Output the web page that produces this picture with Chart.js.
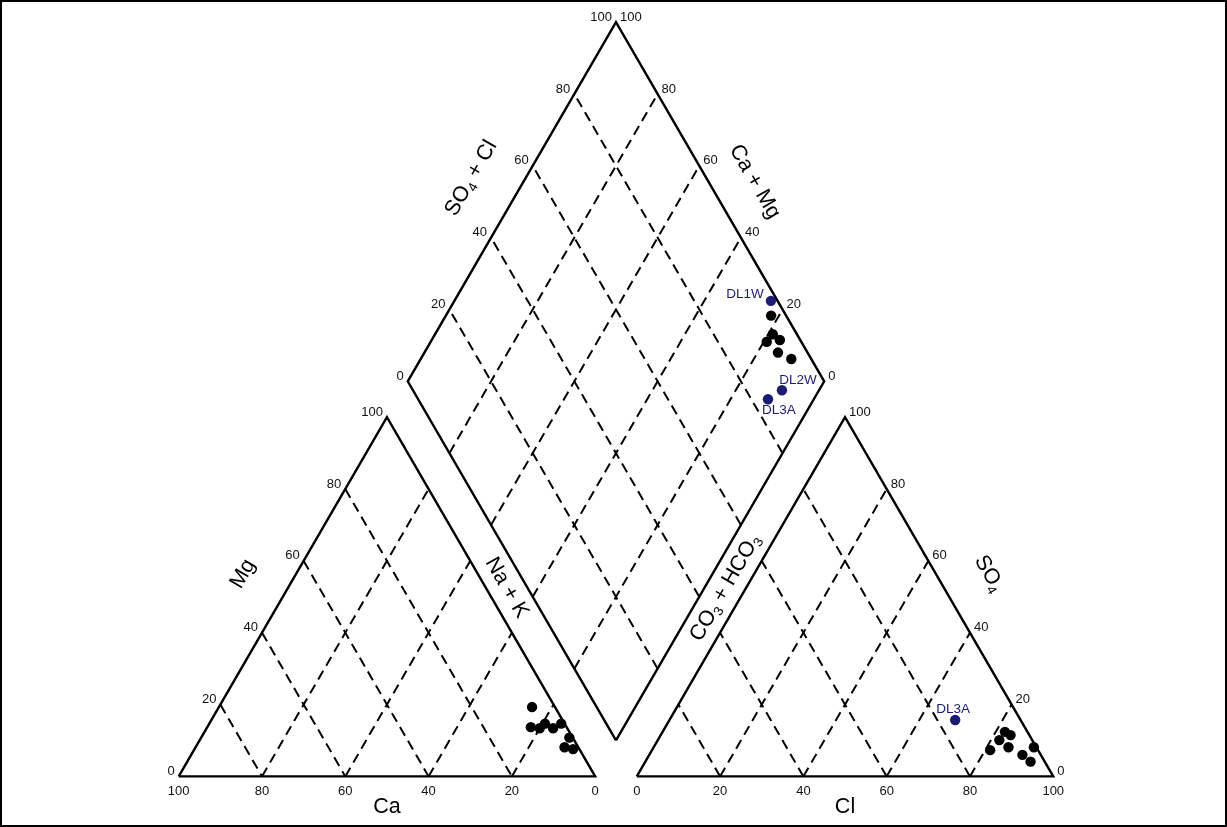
<!DOCTYPE html>
<html>
<head>
<meta charset="utf-8">
<title>Piper diagram</title>
<script src="https://cdn.jsdelivr.net/npm/chart.js@4.4.1/dist/chart.umd.min.js"></script>
<style>
  html, body { margin: 0; padding: 0; background: #fff; overflow: hidden; }
  #wrap { width: 1227px; height: 827px; }
</style>
</head>
<body>
<div id="wrap"><canvas id="piper" width="1227" height="827"></canvas></div>
<script>
/* DATA (percent) */
const tickValues = [0, 20, 40, 60, 80, 100];
const gridValues = [20, 40, 60, 80];

// cation triangle: Ca, Mg (Na + K is the rest)
const cationCa = [5.5, 8.6, 6.6, 4.7, 3.4, 0.8, 0.8, 3.3, 1.5];
const cationMg = [19.3, 13.7, 13.4, 14.7, 13.4, 14.7, 10.8, 8.1, 7.6];

// anion triangle: Cl, SO4 (CO3 + HCO3 is the rest)
const anionCl = [82.2, 84.0, 82.0, 81.2, 85.2, 91.3, 89.6, 92.5];
const anionSO4 = [12.4, 11.5, 10.1, 7.3, 8.1, 8.1, 6.0, 4.1];
const anionNames = ["DL3A"];
const anionNamedCl = [68.6];
const anionNamedSO4 = [15.7];

// diamond: Ca + Mg, SO4 + Cl
const diamondCaMg = [21.9, 18.9, 19.3, 16.4, 15.1, 11.0];
const diamondSO4Cl = [96.4, 94.2, 91.7, 95.1, 92.9, 95.2];
const diamondNames = ["DL1W", "DL2W", "DL3A"];
const diamondNamedCaMg = [24.0, 8.9, 11.0];
const diamondNamedSO4Cl = [98.4, 88.6, 84.0];

/* LAYOUT */
const W = 1227, H = 827;
const PX = 4.2;          // pixels per percent unit
const LEFT = 175;        // pixel x of cation 100% Ca corner
const BASE = 781;        // pixel y of both triangle bases
const S = Math.sqrt(3) / 2;
const GAP = 10;          // gap between triangles, in percent units
const FONT = '"Liberation Sans", Arial, sans-serif';
const NAVY = "#1b1b78";

// offsets of the sample names from their dots (pixels)
const nameOffsets = {
  "diamond-DL1W": [-26, -7], "diamond-DL2W": [16, -10], "diamond-DL3A": [11, 11],
  "anion-DL3A": [-2, -11]
};

/* TERNARY -> PLOT UNITS */
function cationXY(ca, mg){
  const na = 100 - ca - mg;
  return {x: na + mg / 2, y: mg * S};
}
function anionXY(cl, so4){
  return {x: 100 + GAP + cl + so4 / 2, y: so4 * S};
}
function diamondXY(camg, so4cl){
  return {x: 100 + GAP / 2 + (so4cl - camg) / 2, y: GAP * S + (camg + so4cl) * S};
}

/* DATASETS */
const datasets = [];

function addLine(points, dashed, width){
  datasets.push({
    data: points, showLine: true, fill: false, pointRadius: 0,
    borderColor: "#000", borderWidth: width,
    borderDash: dashed ? [10, 6] : [], order: dashed ? 2 : 1
  });
}

function addDots(points, color){
  datasets.push({
    data: points, showLine: false, pointRadius: 5.2, pointHoverRadius: 5.2,
    backgroundColor: color, borderWidth: 0, order: 0
  });
}

// outlines
addLine([cationXY(100, 0), cationXY(0, 0), cationXY(0, 100), cationXY(100, 0)], false, 2.4);
addLine([anionXY(0, 0), anionXY(100, 0), anionXY(0, 100), anionXY(0, 0)], false, 2.4);
addLine([diamondXY(0, 0), diamondXY(100, 0), diamondXY(100, 100), diamondXY(0, 100), diamondXY(0, 0)], false, 2.4);

// dashed grid
gridValues.forEach(g => {
  addLine([cationXY(g, 100 - g), cationXY(g, 0)], true, 2);
  addLine([cationXY(100 - g, 0), cationXY(0, 100 - g)], true, 2);
  addLine([anionXY(g, 0), anionXY(g, 100 - g)], true, 2);
  addLine([anionXY(100 - g, 0), anionXY(0, 100 - g)], true, 2);
  addLine([diamondXY(g, 0), diamondXY(g, 100)], true, 2);
  addLine([diamondXY(0, g), diamondXY(100, g)], true, 2);
});

// samples
addDots(cationCa.map((c, i) => cationXY(c, cationMg[i])), "#000");
addDots(anionCl.map((c, i) => anionXY(c, anionSO4[i])), "#000");
addDots(diamondCaMg.map((c, i) => diamondXY(c, diamondSO4Cl[i])), "#000");
addDots(anionNamedCl.map((c, i) => anionXY(c, anionNamedSO4[i])), NAVY);
addDots(diamondNamedCaMg.map((c, i) => diamondXY(c, diamondNamedSO4Cl[i])), NAVY);

/* TEXT PLUGIN */
function drawRich(ctx, parts, x, y, angle, size){
  ctx.save();
  ctx.translate(x, y);
  ctx.rotate(angle);
  ctx.textBaseline = "middle";
  ctx.textAlign = "left";
  let total = 0;
  parts.forEach(p => {
    ctx.font = (p.sub ? size * 0.62 : size) + "px " + FONT;
    p.w = ctx.measureText(p.t).width;
    total += p.w;
  });
  let cx = -total / 2;
  parts.forEach(p => {
    ctx.font = (p.sub ? size * 0.62 : size) + "px " + FONT;
    ctx.fillText(p.t, cx, p.sub ? size * 0.3 : 0);
    cx += p.w;
  });
  ctx.restore();
}

const piperText = {
  id: "piperText",
  beforeDraw(chart){
    const ctx = chart.ctx;
    ctx.save();
    ctx.fillStyle = "#fff";
    ctx.fillRect(0, 0, W, H);
    ctx.strokeStyle = "#000";
    ctx.lineWidth = 2;
    ctx.strokeRect(1, 1, W - 2, H - 2);
    ctx.restore();
  },
  afterDatasetsDraw(chart){
    const ctx = chart.ctx;
    const sx = chart.scales.x, sy = chart.scales.y;
    const px = p => ({x: sx.getPixelForValue(p.x), y: sy.getPixelForValue(p.y)});
    const mid = (a, b) => ({x: (a.x + b.x) / 2, y: (a.y + b.y) / 2});

    ctx.save();
    ctx.fillStyle = "#111";
    ctx.font = "13px " + FONT;
    ctx.textBaseline = "middle";

    // tick labels
    tickValues.forEach(t => {
      let p;
      ctx.textAlign = "center";
      p = px(cationXY(t, 0)); ctx.fillText(t, p.x, p.y + 15);
      p = px(anionXY(t, 0)); ctx.fillText(t, p.x, p.y + 15);

      ctx.textAlign = "right";
      p = px(cationXY(100 - t, t)); ctx.fillText(t, p.x - 4, p.y - 5);
      p = px(diamondXY(100, t)); ctx.fillText(t, p.x - 4, p.y - 5);

      ctx.textAlign = "left";
      p = px(anionXY(100 - t, t)); ctx.fillText(t, p.x + 4, p.y - 5);
      p = px(diamondXY(t, 100)); ctx.fillText(t, p.x + 4, p.y - 5);
    });

    // axis titles
    ctx.fillStyle = "#000";
    const A = Math.PI / 3;
    const upLeft = [-S, -0.5], upRight = [S, -0.5];
    const titles = [
      {parts: [{t: "Mg"}], at: mid(px(cationXY(100, 0)), px(cationXY(0, 100))), n: upLeft, d: 46, a: -A},
      {parts: [{t: "Ca"}], at: mid(px(cationXY(100, 0)), px(cationXY(0, 0))), n: [0, 1], d: 31, a: 0},
      {parts: [{t: "Na + K"}], at: mid(px(cationXY(0, 0)), px(cationXY(0, 100))), n: upRight, d: 18, a: A},
      {parts: [{t: "CO"}, {t: "3", sub: true}, {t: " + HCO"}, {t: "3", sub: true}],
        at: mid(px(anionXY(0, 0)), px(anionXY(0, 100))), n: upLeft, d: 18, a: -A},
      {parts: [{t: "Cl"}], at: mid(px(anionXY(0, 0)), px(anionXY(100, 0))), n: [0, 1], d: 31, a: 0},
      {parts: [{t: "SO"}, {t: "4", sub: true}], at: mid(px(anionXY(100, 0)), px(anionXY(0, 100))), n: upRight, d: 46, a: A},
      {parts: [{t: "SO"}, {t: "4", sub: true}, {t: " + Cl"}],
        at: mid(px(diamondXY(100, 0)), px(diamondXY(100, 100))), n: upLeft, d: 47, a: -A},
      {parts: [{t: "Ca + Mg"}], at: mid(px(diamondXY(0, 100)), px(diamondXY(100, 100))), n: upRight, d: 40, a: A}
    ];
    titles.forEach(tt => {
      drawRich(ctx, tt.parts, tt.at.x + tt.n[0] * tt.d, tt.at.y + tt.n[1] * tt.d, tt.a, 21.5);
    });

    // sample names
    ctx.fillStyle = NAVY;
    ctx.font = "13.5px " + FONT;
    ctx.textAlign = "center";
    diamondNames.forEach((name, i) => {
      const p = px(diamondXY(diamondNamedCaMg[i], diamondNamedSO4Cl[i]));
      const o = nameOffsets["diamond-" + name];
      ctx.fillText(name, p.x + o[0], p.y + o[1]);
    });
    anionNames.forEach((name, i) => {
      const p = px(anionXY(anionNamedCl[i], anionNamedSO4[i]));
      const o = nameOffsets["anion-" + name];
      ctx.fillText(name, p.x + o[0], p.y + o[1]);
    });
    ctx.restore();
  }
};

/* CHART */
new Chart(document.getElementById("piper"), {
  type: "scatter",
  data: {datasets: datasets},
  options: {
    responsive: false,
    animation: false,
    events: [],
    layout: {padding: 0},
    plugins: {legend: {display: false}, tooltip: {enabled: false}},
    scales: {
      x: {type: "linear", display: false, min: -LEFT / PX, max: (W - LEFT) / PX},
      y: {type: "linear", display: false, min: (BASE - H) / PX, max: BASE / PX}
    }
  },
  plugins: [piperText]
});
</script>
</body>
</html>
